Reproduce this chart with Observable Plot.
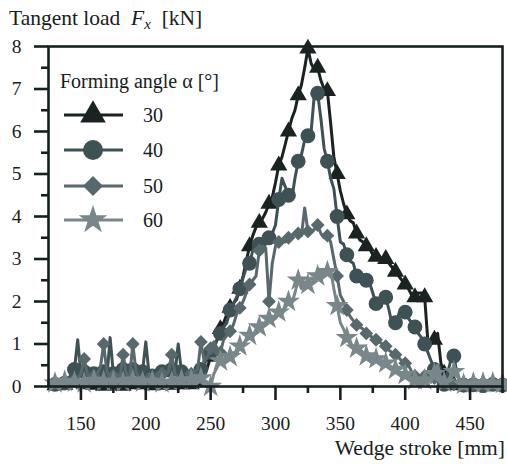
<!DOCTYPE html>
<html>
<head>
<meta charset="utf-8">
<script src="https://cdn.jsdelivr.net/npm/d3@7"></script>
<script src="https://cdn.jsdelivr.net/npm/@observablehq/plot@0.6"></script>
<style>
  html, body { margin: 0; padding: 0; background: #fff; }
  #chart svg { display: block; }
</style>
</head>
<body>
<div id="chart"></div>
<script>
// Wedge stroke sampling positions [mm]
const strokeStart = 125, strokeStep = 2.5, strokeEnd = 475;
const stroke = d3.range(strokeStart, strokeEnd + 0.01, strokeStep);

// Tangent load Fx [kN] for each forming angle, one value per stroke sample
const load30 = [
  0.02,0.05,0.03,0.06,0.02,0.04,0.05,0.03,0.10,0.05,
  0.03,0.05,0.02,0.06,0.04,0.03,0.05,0.02,0.04,0.06,
  0.05,0.03,0.04,0.02,0.06,0.03,0.05,0.04,0.02,0.05,
  0.04,0.06,0.03,0.05,0.02,0.04,0.03,0.06,0.04,0.05,
  0.03,0.05,0.04,0.06,0.05,0.04,0.08,0.10,0.25,0.45,
  0.70,0.90,1.10,1.35,1.50,1.70,1.85,1.95,2.05,2.30,
  2.60,2.95,3.30,3.55,3.75,3.85,3.95,4.10,4.30,4.45,
  4.80,5.20,5.40,5.70,6.00,6.30,6.50,6.85,7.10,7.50,
  7.95,7.60,7.45,7.50,7.20,7.00,6.95,6.20,5.40,5.00,
  4.60,4.30,4.05,3.90,3.85,3.60,3.45,3.40,3.30,3.25,
  3.10,3.05,3.05,3.00,3.00,2.90,2.80,2.70,2.60,2.50,
  2.40,2.30,2.15,2.10,2.20,2.20,2.10,1.05,1.00,1.10,
  1.25,0.55,0.30,0.15,0.05,0.03,0.05,0.02,0.04,0.03,
  0.05,0.02,0.04,0.03,0.05,0.02,0.04,0.03,0.05,0.02,
  0.03
];
const load40 = [
  0.05,0.08,0.05,0.10,0.06,0.08,0.15,0.30,0.40,1.10,
  0.30,0.35,0.20,0.25,0.30,0.40,0.30,0.35,0.20,1.15,
  0.30,0.30,0.35,0.40,0.20,0.30,0.40,0.30,0.20,0.35,
  1.05,0.30,0.25,0.15,0.20,0.35,0.30,0.25,0.40,0.30,
  1.00,0.35,0.30,0.25,0.15,0.20,0.35,0.40,0.50,0.70,
  0.80,0.95,1.10,1.25,1.40,1.50,1.80,1.95,2.10,2.30,
  2.55,2.80,2.90,3.20,3.45,3.35,3.30,3.40,3.50,3.60,
  3.80,4.40,4.90,4.70,4.50,4.40,4.90,5.30,5.45,5.80,
  5.90,6.00,6.90,6.90,6.30,5.60,5.30,4.90,4.65,4.00,
  3.40,3.35,3.10,2.95,2.90,2.60,2.50,2.50,2.50,2.45,
  2.20,1.95,2.00,2.10,2.10,1.80,1.45,1.50,1.70,1.80,
  1.75,1.60,1.50,1.40,1.25,1.15,1.00,0.80,0.60,0.40,
  0.20,0.10,0.05,0.30,0.60,0.72,0.30,0.05,0.03,0.05,
  0.02,0.04,0.03,0.05,0.02,0.04,0.03,0.05,0.02,0.04,
  0.03
];
const load50 = [
  0.08,0.05,0.10,0.06,0.08,0.12,0.08,0.10,0.15,0.20,
  0.30,0.65,0.30,0.20,0.25,0.30,0.45,1.00,0.35,0.20,
  0.25,0.30,0.20,0.75,0.30,0.20,1.00,0.35,0.20,0.15,
  0.20,0.30,0.20,0.15,0.20,0.30,0.25,0.35,0.75,0.30,
  0.20,0.15,0.20,0.25,0.30,0.35,0.40,1.05,0.60,0.70,
  0.90,1.05,0.90,0.80,1.10,1.20,1.30,1.45,1.70,1.85,
  2.00,2.20,2.40,2.50,2.60,3.20,3.30,3.25,2.00,2.90,
  3.30,3.40,3.45,3.40,3.50,3.55,3.60,3.60,3.55,4.20,
  3.65,3.65,3.70,3.80,3.60,3.50,3.55,3.40,3.00,2.60,
  2.15,2.00,1.80,1.65,1.55,1.45,1.40,1.35,1.25,1.20,
  1.15,1.10,1.05,1.00,0.95,0.85,0.80,0.75,0.68,0.60,
  0.55,0.50,0.35,0.25,0.20,0.20,0.25,0.20,0.15,0.20,
  0.15,0.10,0.10,0.05,0.08,0.05,0.06,0.04,0.05,0.06,
  0.04,0.06,0.05,0.03,0.06,0.04,0.05,0.07,0.04,0.05,
  0.06
];
const load60 = [
  0.10,0.12,0.08,0.15,0.10,0.12,0.08,0.14,0.10,0.12,
  0.15,0.08,0.12,0.10,0.14,0.20,0.10,0.12,0.08,0.15,
  0.12,0.10,0.18,0.10,0.12,0.08,0.15,0.10,0.12,0.10,
  0.14,0.10,0.12,0.18,0.10,0.08,0.12,0.15,0.10,0.12,
  0.10,0.15,0.12,0.20,0.15,0.10,0.12,0.20,0.15,0.10,
  0.00,0.30,0.45,0.60,0.55,0.75,0.70,0.80,0.75,0.95,
  1.00,1.10,1.20,1.15,1.35,1.40,1.50,1.45,1.60,1.55,
  1.60,1.75,1.70,1.85,2.00,1.95,2.20,2.50,2.30,2.45,
  2.40,2.55,2.50,2.60,2.75,2.60,2.70,2.75,2.30,1.90,
  1.50,1.35,1.15,1.00,0.95,0.90,0.88,0.80,0.72,0.70,
  0.68,0.65,0.62,0.60,0.55,0.50,0.45,0.40,0.35,0.30,
  0.28,0.25,0.20,0.15,0.14,0.10,0.15,0.20,0.10,0.30,
  0.50,0.20,0.10,0.15,0.20,0.35,0.38,0.10,0.05,0.08,
  0.05,0.08,0.06,0.05,0.08,0.06,0.05,0.08,0.06,0.05,
  0.07
];

// Series styling
const angles  = [30, 40, 50, 60];
const loads   = [load30, load40, load50, load60];
const colors  = ["#1a2322", "#3e5155", "#58696d", "#79868a"];
const symbols = ["triangle", "circle", "diamond2", "star"];
const d3Symbols = [d3.symbolTriangle, d3.symbolCircle, d3.symbolDiamond2, d3.symbolStar];
const markerRadius = [6.4, 7.4, 6.2, 7.2];
const markerEvery = 3;

// Axis ticks
const xTicks = [150, 200, 250, 300, 350, 400, 450];
const xMinorTicks = [175, 225, 275, 325, 375, 425, 475];
const yTicks = [0, 1, 2, 3, 4, 5, 6, 7, 8];
const yMinorTicks = [0.5, 1.5, 2.5, 3.5, 4.5, 5.5, 6.5, 7.5];

const ink = "#172020";
const serif = "'Liberation Serif', 'Times New Roman', serif";

const seriesRows = angles.map((a, k) =>
  stroke.map((s, i) => ({angle: a, stroke: s, load: loads[k][i], i}))
);

const seriesMarks = seriesRows.flatMap((rows, k) => [
  Plot.line(rows, {x: "stroke", y: "load", stroke: colors[k], strokeWidth: 3, strokeLinejoin: "round"}),
  Plot.dot(rows.filter(d => d.i % markerEvery === 2), {
    x: "stroke", y: "load", symbol: symbols[k], r: markerRadius[k], fill: colors[k], stroke: "none"
  })
]);

const chart = Plot.plot({
  width: 507,
  height: 464,
  marginLeft: 48,
  marginTop: 46,
  marginRight: 5,
  marginBottom: 78,
  x: {domain: [strokeStart, strokeEnd]},
  y: {domain: [0, 8]},
  style: {fontFamily: serif, fontSize: "19.5px", color: ink, background: "#fff", overflow: "visible"},
  marks: [
    ...seriesMarks,
    Plot.frame({stroke: ink, strokeWidth: 2.6}),
    Plot.axisY({ticks: yTicks, tickSize: 14, tickPadding: 13, tickFormat: d3.format("d"), label: null, strokeWidth: 2.6, fontSize: 19.5}),
    Plot.axisY({ticks: yMinorTicks, tickSize: 7, text: null, label: null, strokeWidth: 2.6}),
    Plot.axisX({ticks: xTicks, tickSize: 14, tickPadding: 16, tickFormat: d3.format("d"), label: null, strokeWidth: 2.6, fontSize: 19.5}),
    Plot.axisX({ticks: xMinorTicks, tickSize: 7, text: null, label: null, strokeWidth: 2.6})
  ]
});

document.getElementById("chart").appendChild(chart);

// Axis titles
const svg = d3.select(chart);
const yTitle = svg.append("text")
  .attr("x", 9).attr("y", 25).attr("text-anchor", "start")
  .attr("font-family", serif).attr("font-size", 21.5).attr("fill", ink)
  .attr("xml:space", "preserve");
yTitle.append("tspan").text("Tangent load  ");
yTitle.append("tspan").attr("font-style", "italic").text("F");
yTitle.append("tspan").attr("font-style", "italic").attr("font-size", 15).attr("dy", 4).text("x");
yTitle.append("tspan").attr("dy", -4).text("  [kN]");

svg.append("text")
  .attr("x", 505).attr("y", 455).attr("text-anchor", "end")
  .attr("font-family", serif).attr("font-size", 21.5).attr("fill", ink)
  .text("Wedge stroke [mm]");

// Legend: line sample with marker, then the angle
const legend = svg.append("g")
  .attr("font-family", serif).attr("font-size", 20).attr("fill", ink).attr("text-anchor", "start");
legend.append("text").attr("x", 60).attr("y", 88).text("Forming angle α [°]");
const legendRowY = [115, 150, 186, 220];
const legendSize = [9.5, 10, 9, 9];
angles.forEach((a, k) => {
  const y = legendRowY[k];
  legend.append("line")
    .attr("x1", 64).attr("x2", 123).attr("y1", y).attr("y2", y)
    .attr("stroke", colors[k]).attr("stroke-width", 3.2);
  legend.append("path")
    .attr("transform", `translate(93,${y})`)
    .attr("d", d3.symbol(d3Symbols[k], Math.PI * legendSize[k] * legendSize[k])())
    .attr("fill", colors[k]);
  legend.append("text").attr("x", 143).attr("y", y + 7).text(a);
});
</script>
</body>
</html>
